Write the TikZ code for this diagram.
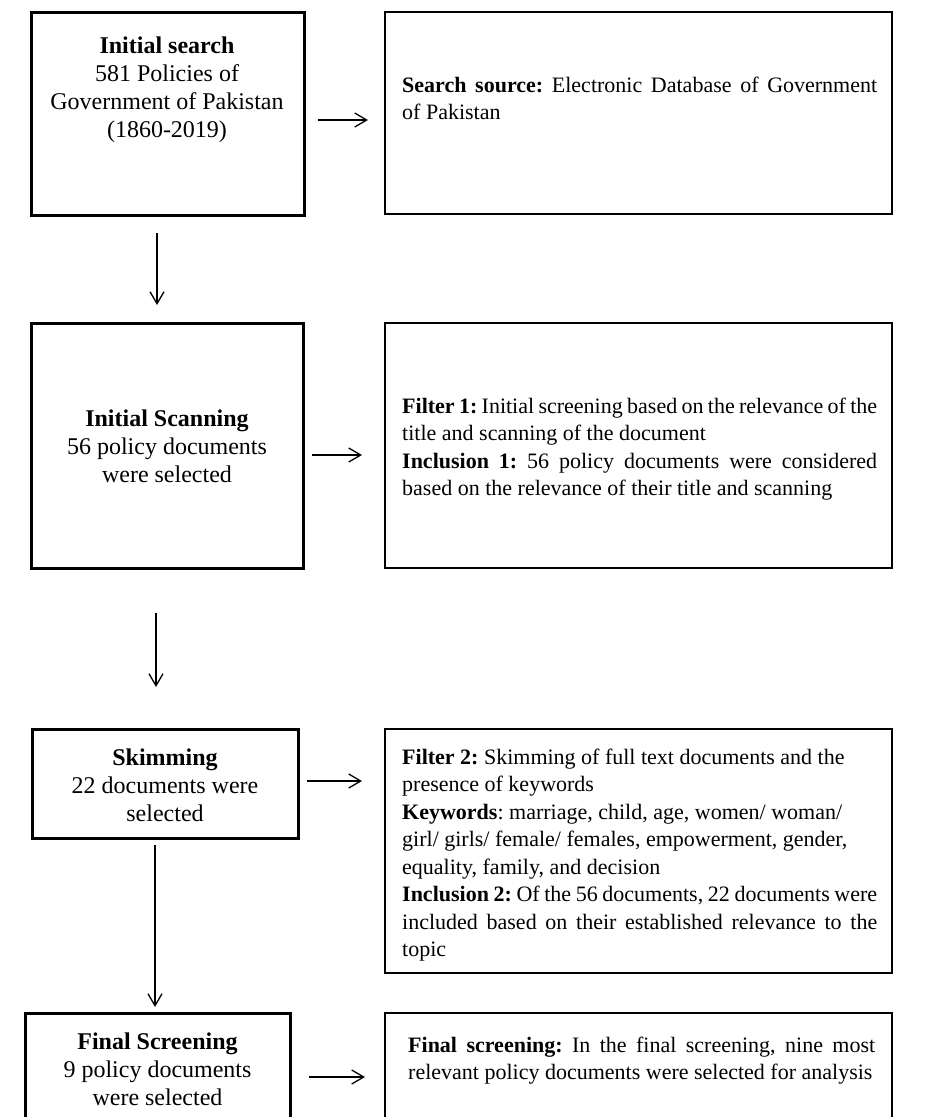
\documentclass[tikz,border=0pt]{standalone}
\usepackage{fontspec}
\setmainfont{Liberation Serif}
\usetikzlibrary{arrows.meta}
\frenchspacing
\hyphenpenalty=10000
\exhyphenpenalty=10000
\newcommand\myspaces{\spaceskip=0.25em plus 0.25em minus 0.1em\relax\xspaceskip=0.25em plus 0.25em minus 0.1em\relax}
\newcommand\myrigidspaces{\spaceskip=0.25em\relax\xspaceskip=0.25em\relax}
\tikzset{
  lbox/.style={draw, line width=3pt, rectangle, inner sep=0pt, outer sep=0pt},
  rbox/.style={draw, line width=2.6pt, rectangle, inner sep=0pt, outer sep=0pt},
  ltext/.style={align=center, text width=260pt, inner sep=0pt, anchor=base, font=\fontsize{24}{28.3}\selectfont},
  rtext/.style={align=left, text width=520pt, inner sep=0pt, anchor=base west, font=\fontsize{22}{27.5}\selectfont},
  arr/.style={line width=1.3pt, -{Straight Barb[length=12pt,width=14pt,line width=1.3pt]}}
}
\begin{document}
\begin{tikzpicture}[x=1pt,y=-1pt]
\clip (0,0) rectangle (947,1117);
\fill[white] (0,0) rectangle (947,1117);
% boxes
\node[lbox, minimum width=273pt, minimum height=203pt] (b1) at (167.5,113.5) {};
\node[rbox, minimum width=507pt, minimum height=202pt] (b2) at (638.5,113) {};
\node[lbox, minimum width=272pt, minimum height=245pt] (b3) at (167,445.5) {};
\node[rbox, minimum width=507pt, minimum height=245pt] (b4) at (638.5,445.5) {};
\node[lbox, minimum width=266pt, minimum height=109pt] (b5) at (165,783.5) {};
\node[rbox, minimum width=507pt, minimum height=244pt] (b6) at (638.5,851) {};
\node[lbox, minimum width=265pt, minimum height=117pt] (b7) at (157.5,1071.5) {};
\node[rbox, minimum width=507pt, minimum height=117pt] (b8) at (638.5,1071.5) {};
% texts
\node[ltext] (t1) at (167,53) {\myrigidspaces\textbf{Initial search}\\581 Policies of\\Government of Pakistan\\(1860-2019)};
\node[ltext] (t3) at (167,426) {\myrigidspaces\textbf{Initial Scanning}\\56 policy documents\\were selected};
\node[ltext] (t5) at (165,765) {\myrigidspaces\textbf{Skimming}\\22 documents were\\selected};
\node[ltext] (t7) at (157.5,1049) {\myrigidspaces\textbf{Final Screening}\\9 policy documents\\were selected};
\node[rtext] (t2) at (402,92) {\myspaces\makebox[475pt][s]{\textbf{Search source:} Electronic Database of Government}\\of Pakistan};
\node[rtext] (t4) at (402,413) {\myspaces\makebox[475pt][s]{\textbf{Filter 1:} Initial screening based on the relevance of the}\\title and scanning of the document\\\makebox[475pt][s]{\textbf{Inclusion 1:} 56 policy documents were considered}\\based on the relevance of their title and scanning};
\node[rtext] (t6) at (402,764) {\myspaces\textbf{Filter 2:} Skimming of full text documents and the\\presence of keywords\\\textbf{Keywords}: marriage, child, age, women/ woman/\\girl/ girls/ female/ females, empowerment, gender,\\equality, family, and decision\\\makebox[475pt][s]{\textbf{Inclusion 2:} Of the 56 documents, 22 documents were}\\\makebox[475pt][s]{included based on their established relevance to the}\\topic};
\node[rtext] (t8) at (408,1052) {\myspaces\makebox[467pt][s]{\textbf{Final screening:} In the final screening, nine most}\\relevant policy documents were selected for analysis};
% arrow end points
\coordinate (h1s) at (318,120); \coordinate (h1e) at (368,120);
\coordinate (h2s) at (312,455); \coordinate (h2e) at (362,455);
\coordinate (h3s) at (307,781); \coordinate (h3e) at (362,781);
\coordinate (h4s) at (309,1077); \coordinate (h4e) at (365,1077);
\coordinate (v1s) at (157,233); \coordinate (v1e) at (157,305);
\coordinate (v2s) at (156,613); \coordinate (v2e) at (156,687);
\coordinate (v3s) at (155,845); \coordinate (v3e) at (155,1007);
\draw[arr] (h1s) -- (h1e);
\draw[arr] (h2s) -- (h2e);
\draw[arr] (h3s) -- (h3e);
\draw[arr] (h4s) -- (h4e);
\draw[arr] (v1s) -- (v1e);
\draw[arr] (v2s) -- (v2e);
\draw[arr] (v3s) -- (v3e);
\end{tikzpicture}
\end{document}
